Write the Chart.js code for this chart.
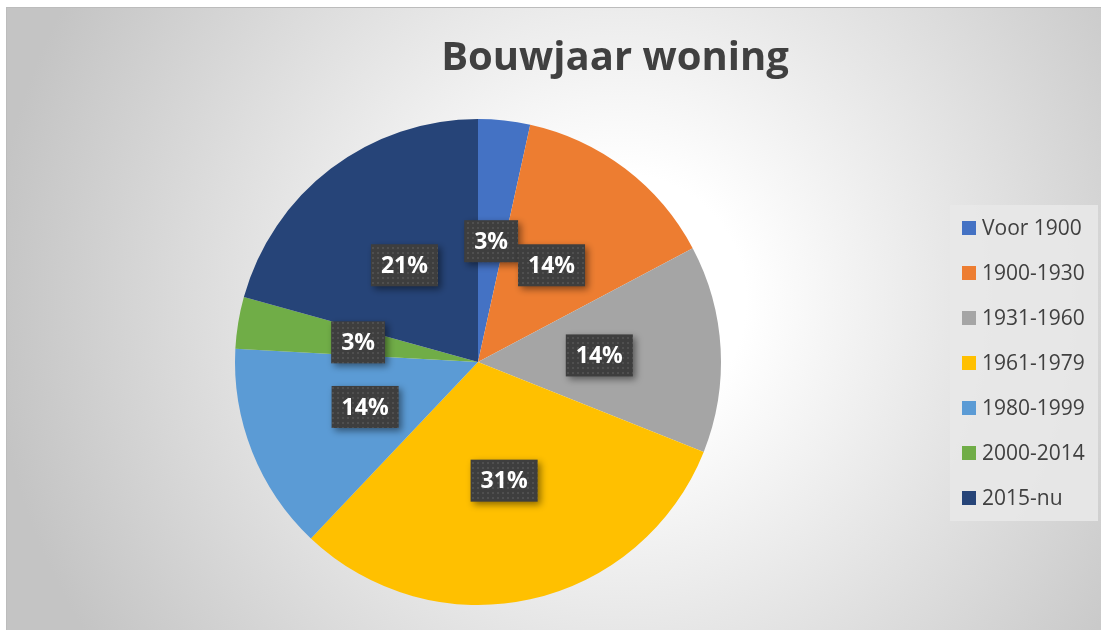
<!DOCTYPE html>
<html>
<head>
<meta charset="utf-8">
<script src="https://cdn.jsdelivr.net/npm/chart.js@4"></script>
<style>
  html, body { margin: 0; padding: 0; background: #fff; }
  #wrap { width: 1101px; height: 630px; position: relative; }
</style>
</head>
<body>
<div id="wrap"><canvas id="pieChart" width="1101" height="630"></canvas></div>
<script>
const chartTitle = 'Bouwjaar woning';
const categories = ['Voor 1900', '1900-1930', '1931-1960', '1961-1979', '1980-1999', '2000-2014', '2015-nu'];
const counts = [1, 4, 4, 9, 4, 1, 6];
const sliceColors = ['#4472C4', '#ED7D31', '#A5A5A5', '#FFC000', '#5B9BD5', '#70AD47', '#264478'];

const FONT = '"Open Sans", "DejaVu Sans", sans-serif';

// dotted dark fill for the data labels
function makeDotPattern(ctx) {
  const tile = document.createElement('canvas');
  tile.width = 5; tile.height = 5;
  const t = tile.getContext('2d');
  t.fillStyle = '#3e3e3e';
  t.fillRect(0, 0, 5, 5);
  t.fillStyle = '#4f4f4f';
  t.fillRect(2, 2, 2, 2);
  return ctx.createPattern(tile, 'repeat');
}

const backgroundPlugin = {
  id: 'backgroundPlugin',
  beforeDraw(chart) {
    const ctx = chart.ctx;
    ctx.save();
    ctx.fillStyle = '#ffffff';
    ctx.fillRect(0, 0, chart.width, chart.height);
    const g = ctx.createRadialGradient(620, 300, 0, 620, 300, 630);
    g.addColorStop(0, '#ffffff');
    g.addColorStop(0.2, '#ffffff');
    g.addColorStop(1, '#c4c4c4');
    ctx.fillStyle = g;
    ctx.fillRect(6, 7, chart.width - 6, chart.height - 7);
    ctx.strokeStyle = '#bcbcbc';
    ctx.lineWidth = 1;
    ctx.strokeRect(6.5, 7.5, chart.width - 6, chart.height - 7);
    ctx.restore();
  }
};

const decorPlugin = {
  id: 'decorPlugin',
  afterDraw(chart) {
    const ctx = chart.ctx;
    const meta = chart.getDatasetMeta(0);
    const data = chart.data.datasets[0].data;
    const total = data.reduce((a, b) => a + b, 0);
    ctx.save();

    // title
    ctx.fillStyle = '#404040';
    ctx.font = 'bold 40px ' + FONT;
    ctx.textAlign = 'center';
    ctx.textBaseline = 'alphabetic';
    ctx.fillText(chartTitle, 615, 70);

    // data labels
    const pattern = makeDotPattern(ctx);
    ctx.font = 'bold 23px ' + FONT;
    meta.data.forEach((arc, i) => {
      const pos = arc.tooltipPosition();
      const txt = Math.round(data[i] / total * 100) + '%';
      const w = ctx.measureText(txt).width + 20;
      const h = 42;
      const x = pos.x - w / 2, y = pos.y - h / 2;
      ctx.save();
      ctx.shadowColor = 'rgba(0,0,0,0.45)';
      ctx.shadowBlur = 7;
      ctx.shadowOffsetX = 3;
      ctx.shadowOffsetY = 3;
      ctx.fillStyle = pattern;
      ctx.fillRect(x, y, w, h);
      ctx.restore();
      ctx.fillStyle = '#ffffff';
      ctx.textAlign = 'center';
      ctx.textBaseline = 'middle';
      ctx.fillText(txt, pos.x, pos.y + 1);
    });

    // legend
    ctx.fillStyle = 'rgba(232,232,232,0.9)';
    ctx.fillRect(950, 205, 148, 316);
    ctx.font = '21px ' + FONT;
    ctx.textAlign = 'left';
    ctx.textBaseline = 'middle';
    chart.data.labels.forEach((lab, i) => {
      const cy = 228 + i * 45;
      ctx.fillStyle = chart.data.datasets[0].backgroundColor[i];
      ctx.fillRect(962, cy - 7, 14, 14);
      ctx.fillStyle = '#404040';
      ctx.fillText(lab, 982, cy + 1);
    });
    ctx.restore();
  }
};

new Chart(document.getElementById('pieChart').getContext('2d'), {
  type: 'pie',
  data: {
    labels: categories,
    datasets: [{
      data: counts,
      backgroundColor: sliceColors,
      borderWidth: 0
    }]
  },
  options: {
    responsive: false,
    animation: false,
    layout: { padding: { left: 235, right: 380, top: 119, bottom: 25 } },
    plugins: {
      legend: { display: false },
      title: { display: false },
      tooltip: { enabled: false }
    },
    events: []
  },
  plugins: [backgroundPlugin, decorPlugin]
});
</script>
</body>
</html>
